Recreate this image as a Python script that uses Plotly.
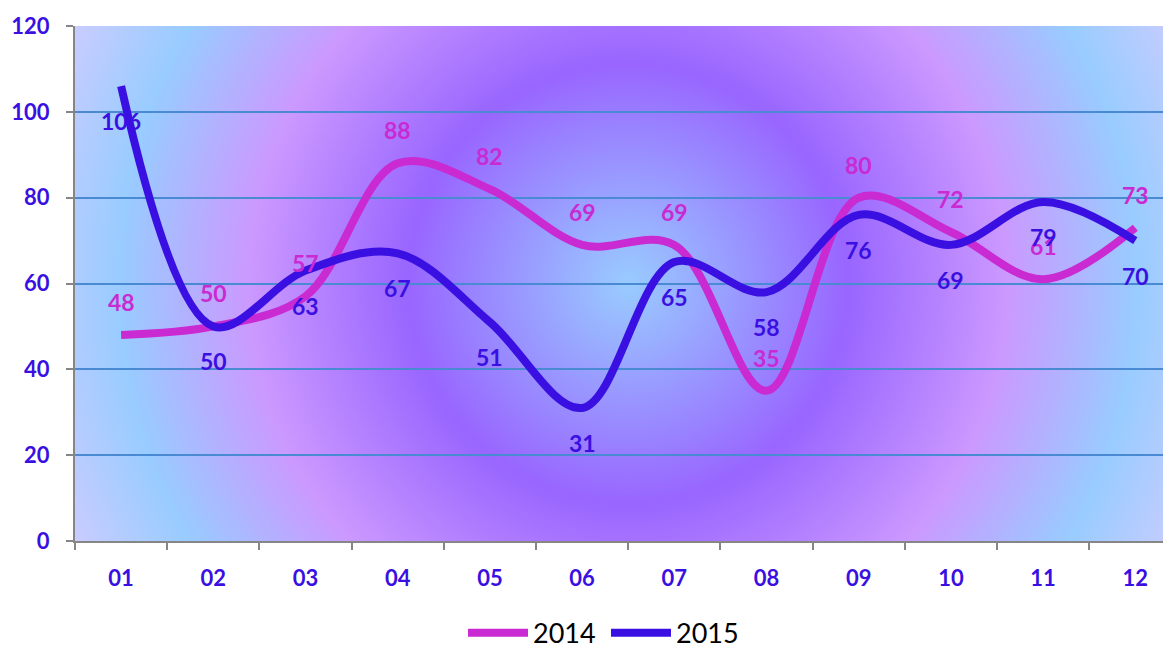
import base64
import struct
import zlib

import numpy as np
import plotly.graph_objects as go

# ---------------- data ----------------
months = ["01", "02", "03", "04", "05", "06", "07", "08", "09", "10", "11", "12"]
sales_2014 = [48, 50, 57, 88, 82, 69, 69, 35, 80, 72, 61, 73]
sales_2015 = [106, 50, 63, 67, 51, 31, 65, 58, 76, 69, 79, 70]
series_names = ["2014", "2015"]

# ---------------- style ----------------
C2014 = "#c92ad2"
C2015 = "#3a10e2"
TICK_C = "#3a10e2"
AXIS_C = "#868686"
GRID_C = "#4a8ad2"
FONT = "Lato"

# the page body adds an 8px offset; size the figure so nothing overflows and
# the plot area lands at x 75..1171, y 26..541 of the window
W_FIG, H_FIG = 1163, 638
ML, MR, MT, MB = 67, 0, 18, 105
PW, PH = W_FIG - ML - MR, H_FIG - MT - MB
CAT_PX = 92.2                      # width of one category slot in the original
X_MAX = -0.5 + PW / CAT_PX         # the original plot area runs past the right edge


# ---------------- radial-gradient background (decoration) ----------------
def make_bg_png(w, h):
    full_w = len(months) * CAT_PX
    yy, xx = np.mgrid[0:h, 0:w].astype(float) + 0.5
    r = np.hypot(xx - full_w / 2.0, yy - h / 2.0)
    stops = [0, 220, 378, 508, 615]
    cols = np.array([
        [0x99, 0xcc, 0xff],
        [0x99, 0x66, 0xff],
        [0xcc, 0x99, 0xff],
        [0x99, 0xcc, 0xff],
        [0xcc, 0xcc, 0xff],
    ], dtype=float)
    img = np.zeros((h, w, 3), dtype=np.uint8)
    for c in range(3):
        img[:, :, c] = np.clip(np.interp(r, stops, cols[:, c]), 0, 255).astype(np.uint8)
    raw = np.hstack([np.zeros((h, 1), dtype=np.uint8), img.reshape(h, w * 3)]).tobytes()

    def chunk(t, d):
        return struct.pack(">I", len(d)) + t + d + struct.pack(">I", zlib.crc32(t + d) & 0xFFFFFFFF)

    png = (b"\x89PNG\r\n\x1a\n"
           + chunk(b"IHDR", struct.pack(">IIBBBBB", w, h, 8, 2, 0, 0, 0))
           + chunk(b"IDAT", zlib.compress(raw, 9))
           + chunk(b"IEND", b""))
    return "data:image/png;base64," + base64.b64encode(png).decode("ascii")


bg_src = make_bg_png(PW, PH)

fig = go.Figure()

for name, vals, col in [(series_names[0], sales_2014, C2014), (series_names[1], sales_2015, C2015)]:
    fig.add_trace(go.Scatter(
        x=months, y=vals, name=name, mode="lines",
        line=dict(color=col, width=8, shape="spline", smoothing=1.0),
        hoverinfo="x+y+name",
    ))

# data labels (positioned by category index so "01" is not read as the number 1)
annotations = []
for vals, col, shift in [(sales_2014, C2014, 33), (sales_2015, C2015, -35)]:
    for i, v in enumerate(vals):
        annotations.append(dict(
            x=i, y=v, xref="x", yref="y", text=str(v), showarrow=False,
            yshift=shift, xanchor="center", yanchor="middle",
            font=dict(family=FONT, size=23, color=col, weight="bold"),
        ))

fig.update_layout(
    width=W_FIG, height=H_FIG,
    margin=dict(l=ML, r=MR, t=MT, b=MB, pad=0, autoexpand=False),
    paper_bgcolor="white",
    plot_bgcolor="#b0b0ff",
    showlegend=True,
    legend=dict(
        orientation="h", x=(463 - 75) / PW, xanchor="left", y=-0.179, yanchor="middle",
        font=dict(family=FONT, size=27, color="black"),
        itemwidth=60, entrywidth=68, entrywidthmode="pixels",
        bgcolor="rgba(0,0,0,0)", traceorder="normal",
    ),
    annotations=annotations,
    images=[dict(
        source=bg_src, xref="paper", yref="paper", x=0, y=1, sizex=1, sizey=1,
        xanchor="left", yanchor="top", sizing="stretch", layer="below",
    )],
    xaxis=dict(
        type="category", categoryorder="array", categoryarray=months,
        range=[-0.5, X_MAX], showgrid=False, zeroline=False, automargin=False,
        showline=True, linecolor=AXIS_C, linewidth=2,
        ticks="outside", tickson="boundaries", ticklen=7, tickwidth=2, tickcolor=AXIS_C,
        tickfont=dict(family=FONT, size=22, color=TICK_C, weight="bold"),
        ticklabelstandoff=17,
    ),
    yaxis=dict(
        range=[0, 120], dtick=20, tick0=0, automargin=False,
        showgrid=True, gridcolor=GRID_C, gridwidth=2, zeroline=False,
        showline=True, linecolor=AXIS_C, linewidth=2,
        ticks="outside", ticklen=7, tickwidth=2, tickcolor=AXIS_C,
        tickfont=dict(family=FONT, size=22, color=TICK_C, weight="bold"),
        ticklabelstandoff=12,
    ),
)

fig.write_html("out.html")
